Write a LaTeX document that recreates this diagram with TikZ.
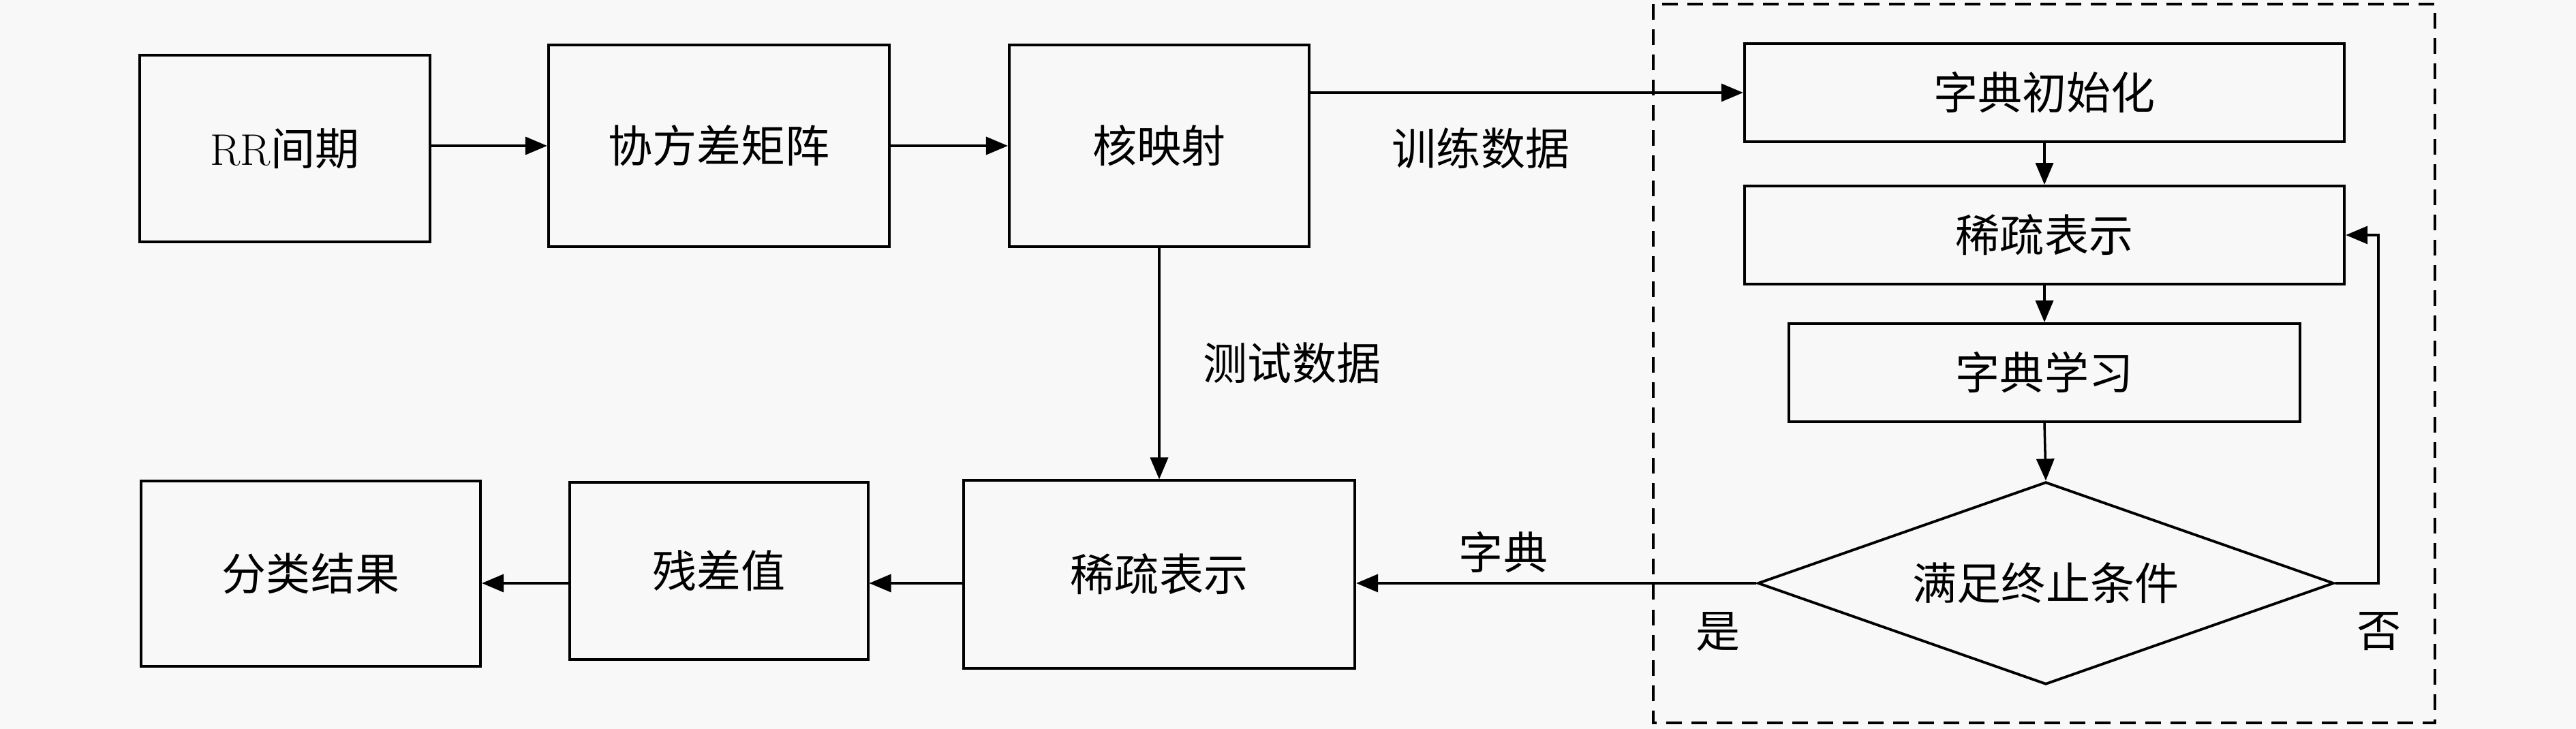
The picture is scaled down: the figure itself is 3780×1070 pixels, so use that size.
\documentclass[tikz,border=0pt]{standalone}
\usepackage{fontspec}
\newfontfamily\cjk{Noto Sans CJK SC}
\usetikzlibrary{arrows.meta,shapes.geometric,calc}
\definecolor{bgc}{RGB}{248,248,248}
\begin{document}
\begin{tikzpicture}[x=0.01cm,y=-0.01cm,
  every node/.style={font=\fontsize{18.5}{22}\selectfont\cjk},
  box/.style={draw,line width=1.1pt,inner sep=0pt},
  cond/.style={draw,line width=1.1pt,diamond,aspect=2.85,inner sep=0pt},
  lbl/.style={inner sep=0pt},
  arr/.style={line width=1pt,-{Triangle[length=0.32cm,width=0.26cm]}},
  ln/.style={line width=1pt}]
\fill[bgc] (0,0) rectangle (3780,1070);
\useasboundingbox (0,0) rectangle (3780,1070);
% dashed frame
\draw[line width=0.9pt,dash pattern=on 0.23cm off 0.14cm] (2426,6) rectangle (3573,1061);
% nodes
\node[box,minimum width=4.25cm,minimum height=2.73cm] (rr) at (418,218) {{\rmfamily RR}间期};
\node[box,minimum width=5.00cm,minimum height=2.96cm] (cov) at (1055,214) {协方差矩阵};
\node[box,minimum width=4.40cm,minimum height=2.96cm] (kmap) at (1701,214) {核映射};
\node[box,minimum width=8.80cm,minimum height=1.44cm] (init) at (3000,136) {字典初始化};
\node[box,minimum width=8.80cm,minimum height=1.44cm] (sr2) at (3000,345) {稀疏表示};
\node[box,minimum width=7.50cm,minimum height=1.44cm] (learn) at (3000,547) {字典学习};
\node[cond,minimum width=8.45cm,minimum height=2.97cm] (stop) at (3002,856) {满足终止条件};
\node[box,minimum width=5.74cm,minimum height=2.75cm] (sr1) at (1701,843) {稀疏表示};
\node[box,minimum width=4.37cm,minimum height=2.60cm] (res) at (1055,838) {残差值};
\node[box,minimum width=4.98cm,minimum height=2.72cm] (cls) at (456,842) {分类结果};
% labels
\node[lbl] (ltrain) at (2173,218) {训练数据};
\node[lbl] (ltest) at (1896,533) {测试数据};
\node[lbl] (ldict) at (2206,811) {字典};
\node[lbl] (lyes) at (2521,927) {是};
\node[lbl] (lno) at (3491,927) {否};
\coordinate (fb) at (3490,856);
% connectors
\draw[arr] (rr.east |- cov.west) -- (cov.west);
\draw[arr] (cov.east) -- (kmap.west);
\draw[arr] (kmap.east |- init.west) -- (init.west);
\draw[arr] (kmap.south) -- (sr1.north);
\draw[arr] (init.south) -- (sr2.north);
\draw[arr] (sr2.south) -- (learn.north);
\draw[arr] (learn.south) -- (stop.north);
\draw[arr] (stop.east) -- (fb) |- (sr2.east);
\draw[arr] (stop.west) -- (sr1.east |- stop.west);
\draw[arr] (sr1.west |- stop.west) -- (res.east |- stop.west);
\draw[arr] (res.west |- stop.west) -- (cls.east |- stop.west);
\end{tikzpicture}
\end{document}
